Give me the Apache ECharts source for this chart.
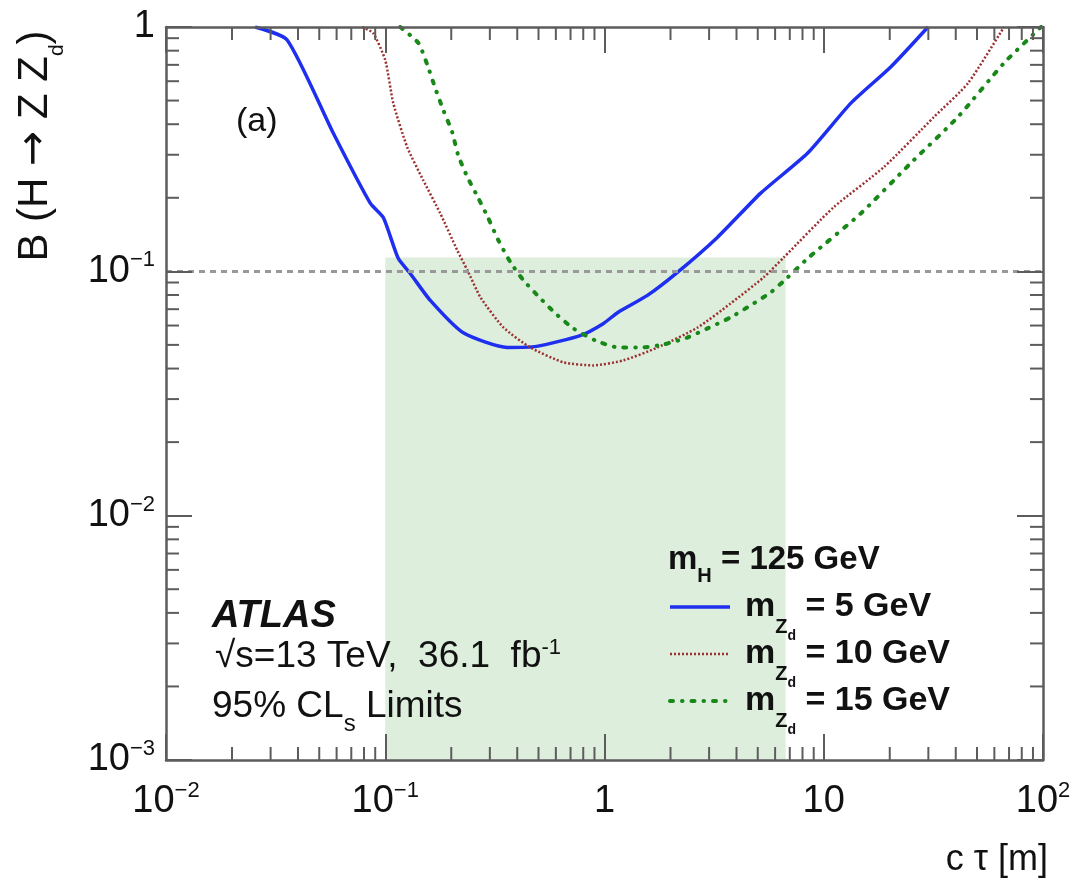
<!DOCTYPE html>
<html>
<head>
<meta charset="utf-8">
<title>H to Z Zd limits vs c tau</title>
<script src="https://cdn.jsdelivr.net/npm/echarts@6/dist/echarts.min.js"></script>
<style>
  html, body { margin: 0; padding: 0; background: #fff; }
  #chart { width: 1085px; height: 885px; }
</style>
</head>
<body>
<div id="chart"></div>
<script>
// limits, c*tau in metres
var ctau5 = [0.0255, 0.0357, 0.0579, 0.0854, 0.098, 0.1146, 0.130, 0.1605, 0.227, 0.36, 0.49, 0.78, 0.99, 1.15, 1.57, 2.15, 3.28, 5.16, 8.45, 13.3, 20.2, 29.9];
var limit5 = [1.0, 0.885, 0.368, 0.190, 0.166, 0.113, 0.098, 0.076, 0.056, 0.0488, 0.0493, 0.0547, 0.0612, 0.0679, 0.0797, 0.099, 0.138, 0.209, 0.305, 0.488, 0.686, 1.0];

var ctau10 = [0.0785, 0.088, 0.1, 0.1088, 0.126, 0.149, 0.178, 0.213, 0.237, 0.272, 0.346, 0.459, 0.650, 0.891, 1.22, 1.746, 2.66, 3.76, 5.32, 6.57, 11.1, 18.8, 31.8, 45.5, 66.4];
var limit10 = [1.0, 0.945, 0.732, 0.488, 0.322, 0.236, 0.173, 0.122, 0.101, 0.0782, 0.0589, 0.0488, 0.0424, 0.0412, 0.0432, 0.0488, 0.0589, 0.0739, 0.0945, 0.114, 0.183, 0.267, 0.428, 0.589, 1.0];

var ctau15 = [0.117, 0.1416, 0.1556, 0.169, 0.184, 0.202, 0.215, 0.237, 0.266, 0.295, 0.328, 0.372, 0.427, 0.510, 0.597, 0.721, 0.910, 1.158, 1.46, 1.86, 2.39, 2.95, 3.76, 4.64, 5.73, 6.85, 8.45, 14.8, 24.9, 40.9, 66.4, 98];
var limit15 = [1.0, 0.86, 0.699, 0.562, 0.457, 0.371, 0.299, 0.243, 0.199, 0.165, 0.134, 0.109, 0.0919, 0.0775, 0.0673, 0.0584, 0.0521, 0.0488, 0.0488, 0.0502, 0.0536, 0.0584, 0.0648, 0.0726, 0.082, 0.0945, 0.113, 0.173, 0.277, 0.428, 0.712, 1.0];

var seriesNames = ['mZd5', 'mZd10', 'mZd15'];
var legendMass = ['5', '10', '15'];

// shaded ctau range and the 10% reference line
var bandCtau = [0.1, 6.7];
var bandLimit = [0.001, 0.114];
var refLimit = 0.1;

var X_MIN = 0.01, X_MAX = 100;
var Y_MIN = 0.001, Y_MAX = 1;
var minorSteps = [2, 3, 4, 5, 6, 7, 8, 9];
var xDecades = [0.01, 0.1, 1, 10];
var yDecades = [0.001, 0.01, 0.1];

var FONT = 'Liberation Sans';
var TXT = '#111';
var AXIS = '#5c5c5c';
var MINOR_LEN = 13;

function pairs(xs, ys) {
  return xs.map(function (x, i) { return [x, ys[i]]; });
}
function minorValues(decades) {
  var out = [];
  decades.forEach(function (d) {
    minorSteps.forEach(function (m) { out.push(d * m); });
  });
  return out;
}

var tickRich = {
  b: { fontSize: 38, lineHeight: 40, fontFamily: FONT, color: TXT },
  s: { fontSize: 22, lineHeight: 24, padding: [0, 0, 22, 0], fontFamily: FONT, color: TXT }
};
function tickText(v) {
  var e = Math.round(Math.log10(v));
  if (e === 0) return '{b|1}';
  if (e === 1) return '{b|10}';
  return '{b|10}{s|' + (e < 0 ? '\u2212' + (-e) : e) + '}';
}

var tickStyle = { stroke: AXIS, lineWidth: 2 };
function xMinor(params, api) {
  var v = api.value(0);
  var b = api.coord([v, Y_MIN]);
  var t = api.coord([v, Y_MAX]);
  return {
    type: 'group',
    children: [
      { type: 'line', shape: { x1: b[0], y1: b[1], x2: b[0], y2: b[1] - MINOR_LEN }, style: tickStyle },
      { type: 'line', shape: { x1: t[0], y1: t[1], x2: t[0], y2: t[1] + MINOR_LEN }, style: tickStyle }
    ]
  };
}
function yMinor(params, api) {
  var v = api.value(1);
  var l = api.coord([X_MIN, v]);
  var r = api.coord([X_MAX, v]);
  return {
    type: 'group',
    children: [
      { type: 'line', shape: { x1: l[0], y1: l[1], x2: l[0] + MINOR_LEN, y2: l[1] }, style: tickStyle },
      { type: 'line', shape: { x1: r[0], y1: r[1], x2: r[0] - MINOR_LEN, y2: r[1] }, style: tickStyle }
    ]
  };
}

function logAxis(pos, min, max, showLabel) {
  return {
    type: 'log',
    logBase: 10,
    position: pos,
    min: min,
    max: max,
    splitNumber: 4,
    z: 10,
    axisLine: { show: true, onZero: false, lineStyle: { color: AXIS, width: 2.5 } },
    axisTick: { show: true, inside: true, length: 26, lineStyle: { color: AXIS, width: 2 } },
    minorTick: { show: false },
    splitLine: { show: false },
    axisLabel: {
      show: showLabel,
      formatter: tickText,
      rich: tickRich,
      margin: (pos === 'bottom') ? 22 : 11,
      showMinLabel: true,
      showMaxLabel: true,
      hideOverlap: false
    }
  };
}

var legendRich = {
  m: { fontSize: 34, fontWeight: 'bold', fontFamily: FONT, color: TXT, lineHeight: 36, padding: [0, 0, 0, 10] },
  z: { fontSize: 20, fontWeight: 'bold', fontFamily: FONT, color: TXT, lineHeight: 20, padding: [40, 0, 0, 0] },
  d: { fontSize: 14, fontWeight: 'bold', fontFamily: FONT, color: TXT, lineHeight: 14, padding: [58, 0, 0, 0] },
  t: { fontSize: 34, fontWeight: 'bold', fontFamily: FONT, color: TXT, lineHeight: 36 }
};

var lineStyles = [
  { color: '#1f2ff0', width: 3.5, type: 'solid' },
  { color: '#9c3030', width: 2.5, type: [2, 2] },
  { color: '#188818', width: 4, type: [3, 9, 0.5, 9], cap: 'round' }
];
var curves = [pairs(ctau5, limit5), pairs(ctau10, limit10), pairs(ctau15, limit15)];

var series = [{
  name: 'band',
  type: 'line',
  data: [],
  z: 1,
  silent: true,
  markArea: {
    silent: true,
    itemStyle: { color: '#ddeedd' },
    data: [[{ xAxis: bandCtau[0], yAxis: bandLimit[0] }, { xAxis: bandCtau[1], yAxis: bandLimit[1] }]]
  },
  markLine: {
    silent: true,
    symbol: 'none',
    label: { show: false },
    lineStyle: { color: '#999', width: 3, type: [6, 5] },
    data: [{ yAxis: refLimit }]
  }
}];
curves.forEach(function (d, i) {
  series.push({
    name: seriesNames[i],
    type: 'line',
    data: d,
    symbol: 'none',
    showSymbol: false,
    smooth: 0.2,
    z: 3,
    lineStyle: lineStyles[i],
    itemStyle: { color: lineStyles[i].color },
    emphasis: { disabled: true }
  });
});
series.push({
  type: 'custom', renderItem: xMinor, silent: true, clip: false, z: 11,
  data: minorValues(xDecades).map(function (v) { return [v, Y_MIN]; })
});
series.push({
  type: 'custom', renderItem: yMinor, silent: true, clip: false, z: 11,
  data: minorValues(yDecades).map(function (v) { return [X_MIN, v]; })
});

function txt(x, y, text, size, opts) {
  opts = opts || {};
  return {
    type: 'text', x: x, y: y, z: 20,
    rotation: opts.rotation || 0,
    style: {
      text: text, fill: TXT, align: opts.align || 'left', verticalAlign: 'middle',
      fontSize: size, fontFamily: FONT, fontWeight: opts.weight || 'normal', fontStyle: opts.style || 'normal',
      rich: opts.rich || {}
    }
  };
}

var chart = echarts.init(document.getElementById('chart'), null, { renderer: 'canvas' });
chart.setOption({
  animation: false,
  backgroundColor: '#fff',
  grid: { left: 166, right: 42, top: 27, bottom: 125, containLabel: false, outerBoundsMode: 'none' },
  xAxis: [logAxis('bottom', X_MIN, X_MAX, true), logAxis('top', X_MIN, X_MAX, false)],
  yAxis: [logAxis('left', Y_MIN, Y_MAX, true), logAxis('right', Y_MIN, Y_MAX, false)],
  legend: {
    data: seriesNames.map(function (n, i) {
      return { name: n, lineStyle: lineStyles[i] };
    }),
    orient: 'vertical',
    left: 668,
    top: 571,
    padding: 0,
    itemWidth: 60,
    itemHeight: 14,
    itemGap: -25,
    selectedMode: false,
    itemStyle: { color: 'transparent', borderWidth: 0, opacity: 0 },
    textStyle: { color: TXT, rich: legendRich },
    formatter: function (name) {
      return '{m|m}{z|Z}{d|d}{t| = ' + legendMass[seriesNames.indexOf(name)] + ' GeV}';
    }
  },
  graphic: [
    // y axis title, reads bottom to top
    txt(35, 146, 'B (H {a|\u2192} Z Z{d|d})', 42, {
      align: 'center',
      rotation: Math.PI / 2,
      rich: {
        a: { fontSize: 42, fontFamily: 'DejaVu Sans', fill: TXT },
        d: { fontSize: 21, fontFamily: FONT, fill: TXT, lineHeight: 21, padding: [44, 0, 0, 0] }
      }
    }),
    txt(1048, 860, 'c \u03c4 [m]', 36, { align: 'right' }),
    txt(236, 122, '(a)', 34),
    txt(668, 560, 'm{h|H} = 125 GeV', 33, {
      weight: 'bold',
      rich: { h: { fontSize: 20, fontWeight: 'bold', fontFamily: FONT, fill: TXT, lineHeight: 20, padding: [32, 0, 0, 0] } }
    }),
    txt(212, 617, 'ATLAS', 38, { weight: 'bold', style: 'italic' }),
    txt(215, 657, '\u221as=13 TeV,  36.1  fb{s|-1}', 37, {
      rich: { s: { fontSize: 22, fontFamily: FONT, fill: TXT, lineHeight: 22, padding: [0, 0, 18, 0] } }
    }),
    txt(212, 707, '95% CL{s|s} Limits', 37, {
      rich: { s: { fontSize: 24, fontFamily: FONT, fill: TXT, lineHeight: 24, padding: [34, 0, 0, 0] } }
    })
  ],
  series: series
});
</script>
</body>
</html>
